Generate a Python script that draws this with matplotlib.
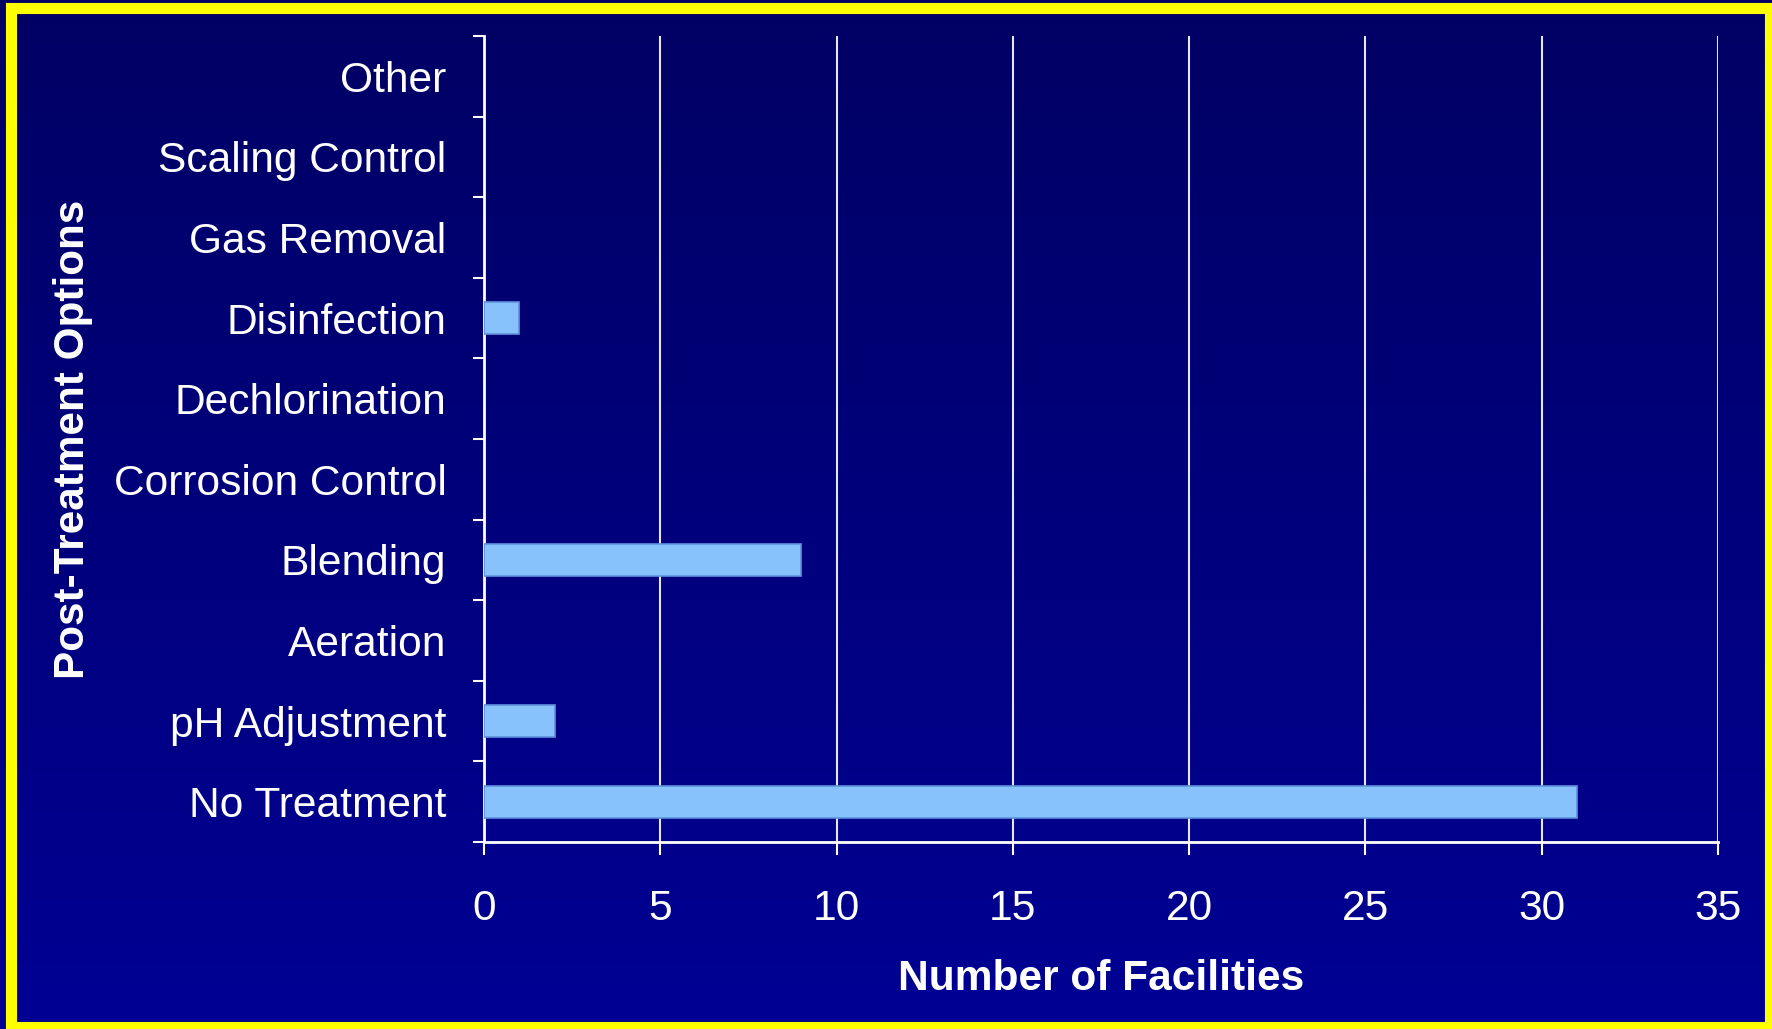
import numpy as np
import matplotlib
matplotlib.use("Agg")
import matplotlib.pyplot as plt
from matplotlib.colors import LinearSegmentedColormap
from matplotlib.patches import Rectangle

# data, bottom to top
categories = ["No Treatment", "pH Adjustment", "Aeration", "Blending",
              "Corrosion Control", "Dechlorination", "Disinfection",
              "Gas Removal", "Scaling Control", "Other"]
facilities = [31, 2, 0, 9, 0, 0, 1, 0, 0, 0]
x_ticks = [0, 5, 10, 15, 20, 25, 30, 35]

plt.rcParams["font.family"] = ["Liberation Sans", "DejaVu Sans"]

W, H = 1772, 1029
fig = plt.figure(figsize=(W / 100, H / 100), dpi=100)
fig.patch.set_facecolor("#00005c")

# slide background: navy gradient inside a yellow frame
bg = fig.add_axes([0, 0, 1, 1], zorder=0)
bg.set_xlim(0, W)
bg.set_ylim(H, 0)
bg.axis("off")
grad = np.linspace(0, 1, 256).reshape(-1, 1)
cmap = LinearSegmentedColormap.from_list("slide", ["#000064", "#000094"])
bg.imshow(grad, cmap=cmap, aspect="auto", extent=[0, W, H, 0])
bg.add_patch(Rectangle((11, 8), W - 13, H - 10, fill=False,
                       edgecolor="#ffff00", linewidth=8))

ax = fig.add_axes([484 / W, 1 - 842 / H, (1718 - 484) / W, (842 - 36) / H], zorder=1)
ax.patch.set_alpha(0)

y = np.arange(len(categories))
# no outline on empty bars
edges = ["#5f92dc" if v > 0 else "none" for v in facilities]
ax.barh(y, facilities, height=0.4, color="#88c2fc", edgecolor=edges,
        linewidth=1.2, zorder=3)

ax.set_xlim(0, 35)
ax.set_ylim(-0.5, len(categories) - 0.5)
ax.set_xticks(x_ticks)
ax.set_xticklabels([str(t) for t in x_ticks])
ax.grid(axis="x", color="#e6e6f0", linewidth=1.5, zorder=1)

# ticks on category boundaries, labels at centres
ax.set_yticks(np.arange(-0.5, len(categories), 1.0))
ax.set_yticklabels([])
ax.set_yticks(y, minor=True)
ax.set_yticklabels(categories, minor=True)
ax.tick_params(axis="y", which="major", length=8, width=1.5, color="white", direction="out")
ax.tick_params(axis="y", which="minor", length=0, pad=27, labelsize=30.6, labelcolor="white")
ax.tick_params(axis="x", length=9.5, width=1.5, color="white", direction="out",
               pad=24, labelsize=30.6, labelcolor="white")

for side in ["top", "right"]:
    ax.spines[side].set_visible(False)
for side in ["left", "bottom"]:
    ax.spines[side].set_color("white")
    ax.spines[side].set_linewidth(2)

ax.set_xlabel("Number of Facilities", fontsize=30.6, fontweight="bold", color="white",
              labelpad=22)
fig.text(73 / W, 1 - 439 / H, "Post-Treatment Options", rotation=90, fontsize=30.4,
         fontweight="bold", color="white", ha="center", va="center")

fig.savefig("out.png", dpi=100, facecolor=fig.get_facecolor())
